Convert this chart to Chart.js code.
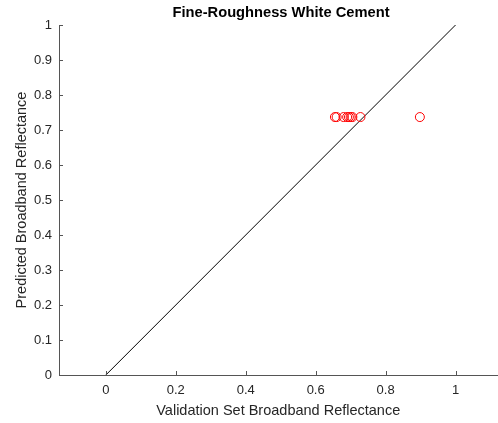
<!DOCTYPE html>
<html>
<head>
<meta charset="utf-8">
<script src="https://cdn.jsdelivr.net/npm/chart.js@4"></script>
<style>
  html, body { margin: 0; padding: 0; background: #fff; overflow: hidden; }
  /* a few px wider than the window so the x axis runs off the right edge like the original */
  #wrap { width: 503px; height: 423px; }
</style>
</head>
<body>
<div id="wrap"><canvas id="c"></canvas></div>
<script>
// measured vs predicted broadband reflectance
const validation = [0.655, 0.66, 0.68, 0.69, 0.695, 0.70, 0.705, 0.728, 0.898];
const predicted  = [0.737, 0.737, 0.737, 0.737, 0.737, 0.737, 0.737, 0.737, 0.737];
const refLineX = [0, 1];
const refLineY = [0, 1];
const xTicks = [0, 0.2, 0.4, 0.6, 0.8, 1];
const yTicks = [0, 0.1, 0.2, 0.3, 0.4, 0.5, 0.6, 0.7, 0.8, 0.9, 1];

const axisColor = '#262626';
const font = 'Liberation Sans, Arial, sans-serif';

// matlab style: ticks point into the axes, title centred on axes
const matlabBits = {
  id: 'matlabBits',
  afterDraw(chart) {
    const ctx = chart.ctx, a = chart.chartArea;
    const xs = chart.scales.x, ys = chart.scales.y;
    ctx.save();
    ctx.strokeStyle = '#555';
    ctx.lineWidth = 1;
    ctx.beginPath();
    xTicks.forEach(v => {
      const px = Math.round(xs.getPixelForValue(v)) + 0.5;
      ctx.moveTo(px, a.bottom); ctx.lineTo(px, a.bottom - 4);
    });
    yTicks.forEach(v => {
      const py = Math.round(ys.getPixelForValue(v)) + 0.5;
      ctx.moveTo(a.left, py); ctx.lineTo(a.left + 4, py);
    });
    ctx.stroke();
    ctx.fillStyle = '#000';
    ctx.font = 'bold 14.7px ' + font;
    ctx.textAlign = 'center';
    ctx.textBaseline = 'middle';
    ctx.fillText('Fine-Roughness White Cement', 281, 13);
    ctx.restore();
  }
};

new Chart(document.getElementById('c'), {
  type: 'scatter',
  data: {
    datasets: [
      {
        label: 'Prediction',
        data: validation.map((v, i) => ({ x: v, y: predicted[i] })),
        borderColor: '#ff0000',
        backgroundColor: 'rgba(0,0,0,0)',
        borderWidth: 1,
        pointRadius: 4.5,
        pointHoverRadius: 4.5
      },
      {
        type: 'line',
        label: '1:1',
        data: refLineX.map((v, i) => ({ x: v, y: refLineY[i] })),
        borderColor: '#000',
        borderWidth: 1,
        pointRadius: 0,
        fill: false
      }
    ]
  },
  options: {
    responsive: true,
    maintainAspectRatio: false,
    animation: false,
    layout: { padding: { top: 25, right: 0, left: 0, bottom: 0 } },
    plugins: { legend: { display: false }, tooltip: { enabled: false } },
    scales: {
      x: {
        type: 'linear',
        min: -0.134,
        max: 1.12,
        afterBuildTicks: s => { s.ticks = xTicks.map(v => ({ value: v })); },
        afterFit: s => { s.height = 48; s.paddingLeft = 0; s.paddingRight = 0; },
        grid: { display: false, drawTicks: false },
        border: { display: true, color: '#555', width: 1 },
        ticks: { color: axisColor, padding: 8, maxRotation: 0, autoSkip: false,
                 font: { family: font, size: 13 }, callback: v => String(+v.toFixed(1)) },
        title: { display: true, text: 'Validation Set Broadband Reflectance', color: axisColor,
                 font: { family: font, size: 14.5 }, padding: { top: 1, bottom: 3 } }
      },
      y: {
        type: 'linear',
        min: 0,
        max: 1,
        afterBuildTicks: s => { s.ticks = yTicks.map(v => ({ value: v })); },
        afterFit: s => { s.width = 59; s.paddingTop = 0; s.paddingBottom = 0; },
        grid: { display: false, drawTicks: false },
        border: { display: true, color: '#555', width: 1 },
        ticks: { color: axisColor, padding: 7, autoSkip: false,
                 font: { family: font, size: 13 }, callback: v => String(+v.toFixed(1)) },
        title: { display: true, text: 'Predicted Broadband Reflectance', color: axisColor,
                 font: { family: font, size: 14.5 }, padding: { top: 13, bottom: 2 } }
      }
    }
  },
  plugins: [matlabBits]
});
</script>
</body>
</html>
